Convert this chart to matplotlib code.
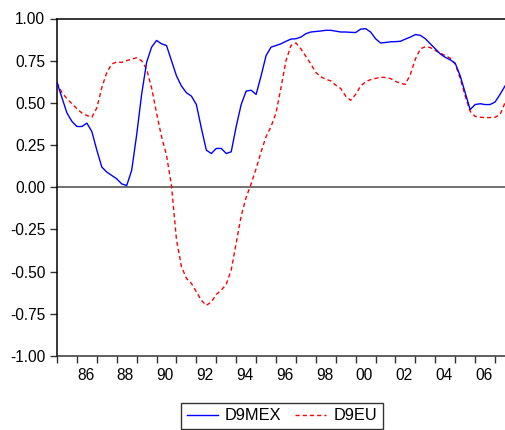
import numpy as np
import matplotlib
matplotlib.use("Agg")
import matplotlib.pyplot as plt

matplotlib.rcParams["font.family"] = ["Liberation Sans", "DejaVu Sans"]

# Quartalsdaten 1985Q1 - 2007Q3 (91 Beobachtungen)
start_year = 1985
d9mex = [
    0.62, 0.53, 0.44, 0.39, 0.36, 0.36, 0.38, 0.33, 0.22, 0.12,
    0.09, 0.07, 0.05, 0.02, 0.01, 0.10, 0.31, 0.55, 0.74, 0.83,
    0.87, 0.85, 0.84, 0.75, 0.66, 0.60, 0.56, 0.54, 0.49, 0.35,
    0.22, 0.20, 0.23, 0.23, 0.20, 0.21, 0.36, 0.49, 0.57, 0.575,
    0.55, 0.66, 0.78, 0.83, 0.84, 0.85, 0.865, 0.878, 0.88, 0.89,
    0.91, 0.92, 0.923, 0.926, 0.93, 0.93, 0.925, 0.92, 0.92, 0.918,
    0.917, 0.937, 0.94, 0.92, 0.88, 0.855, 0.858, 0.862, 0.863, 0.865,
    0.878, 0.89, 0.905, 0.90, 0.88, 0.85, 0.82, 0.79, 0.77, 0.755,
    0.735, 0.66, 0.56, 0.46, 0.49, 0.495, 0.49, 0.49, 0.505, 0.55,
    0.60,
]
d9eu = [
    0.62, 0.56, 0.525, 0.495, 0.465, 0.44, 0.425, 0.415, 0.47, 0.59,
    0.68, 0.73, 0.743, 0.74, 0.75, 0.76, 0.767, 0.75, 0.70, 0.59,
    0.44, 0.30, 0.19, 0.01, -0.31, -0.47, -0.54, -0.57, -0.62, -0.67,
    -0.70, -0.68, -0.635, -0.61, -0.575, -0.49, -0.33, -0.17, -0.06, 0.02,
    0.11, 0.21, 0.30, 0.36, 0.44, 0.59, 0.75, 0.84, 0.855, 0.82,
    0.775, 0.73, 0.68, 0.655, 0.64, 0.63, 0.605, 0.585, 0.54, 0.515,
    0.55, 0.60, 0.625, 0.638, 0.645, 0.652, 0.65, 0.644, 0.628, 0.615,
    0.61, 0.67, 0.76, 0.82, 0.833, 0.828, 0.81, 0.795, 0.78, 0.765,
    0.73, 0.645, 0.54, 0.45, 0.42, 0.415, 0.413, 0.413, 0.415, 0.43,
    0.50,
]
years = list(range(1985, 2008))
y_ticks = [1.00, 0.75, 0.50, 0.25, 0.00, -0.25, -0.50, -0.75, -1.00]

t = start_year + np.arange(len(d9mex)) / 4.0

fig = plt.figure(figsize=(5.05, 4.30), dpi=100)
ax = fig.add_axes([57 / 505, 1 - 356 / 430, 448 / 505, (356 - 18.5) / 430])

ax.axhline(0, color="#707070", linewidth=1.4, zorder=1)
ax.plot(t, d9mex, color="#0000FF", linewidth=1.0, label="D9MEX", zorder=3)
ax.plot(t, d9eu, color="#FF0000", linewidth=1.0, dashes=(3.0, 2.2),
        label="D9EU", zorder=2)

ax.set_xlim(t[0], t[-1])
ax.set_ylim(-1.0, 1.0)

ax.set_yticks(y_ticks)
ax.set_yticklabels([f"{v:.2f}" for v in y_ticks])
ax.set_xticks(years)
ax.set_xticklabels([f"{y % 100:02d}" if y % 2 == 0 else "" for y in years])
for lbl in ax.get_xticklabels():
    lbl.set_horizontalalignment("left")

ax.tick_params(axis="both", direction="out", length=5, width=1,
               labelsize=11.2, color="#333333")
ax.tick_params(axis="y", pad=3.5)
ax.tick_params(axis="x", pad=4)

for side in ["left", "top"]:
    ax.spines[side].set_color("black")
    ax.spines[side].set_linewidth(1.1)
ax.spines["bottom"].set_color("#333333")
ax.spines["bottom"].set_linewidth(1.1)
ax.spines["right"].set_visible(False)

fig.legend(loc="center", bbox_to_anchor=(281.7 / 505, 1 - 415.8 / 430),
           ncol=2, fontsize=11.8, frameon=True, fancybox=False,
           edgecolor="black", handlelength=1.9, columnspacing=0.8,
           handletextpad=0.45, borderpad=0.35, borderaxespad=0)

fig.savefig("out.png", dpi=100)
